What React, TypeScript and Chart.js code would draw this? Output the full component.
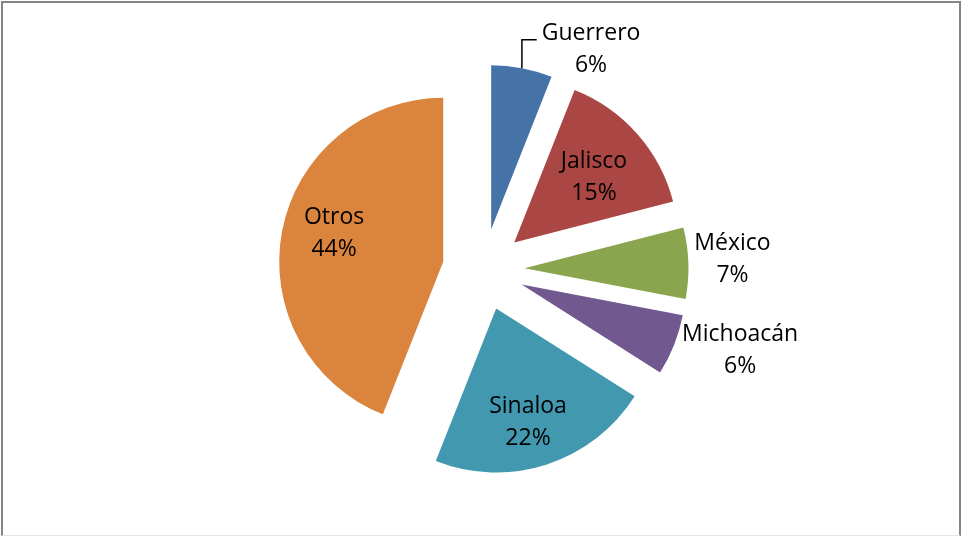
import React, { useEffect, useRef } from "react";
import { Chart, registerables } from "chart.js";

Chart.register(...registerables);

// ---- data ----
const categories = ["Guerrero", "Jalisco", "México", "Michoacán", "Sinaloa", "Otros"];
const shares = [6, 15, 7, 6, 22, 44];

// ---- styles / layout ----
const sliceColors = ["#4572A7", "#AA4643", "#89A54E", "#71588F", "#4198AF", "#DB843D"];
// label placement: distance (in radii) and angle (deg, clockwise from top) from each exploded slice centre
const labelRadius = [1.264, 0.633, 1.27, 1.388, 0.713, 0.69];
const labelAngle = [28.8, 50.2, 87.2, 106.3, 164.2, 285.3];
const leaderLine = [true, false, false, false, false, false];

const EXPLODE = 41;
const RADIUS = 164;
const FONT_SIZE = 23;
const FONT = `${FONT_SIZE}px "Open Sans"`;
const CAP = FONT_SIZE * 0.714;
const LINE_GAP = 32;

const explodePlugin = {
  id: "explodeSlices",
  afterDatasetsUpdate(chart: any) {
    const meta = chart.getDatasetMeta(0);
    const ca = chart.chartArea;
    const cx = (ca.left + ca.right) / 2;
    const cy = (ca.top + ca.bottom) / 2;
    meta.data.forEach((arc: any) => {
      const mid = (arc.startAngle + arc.endAngle) / 2;
      arc.x = cx + Math.cos(mid) * EXPLODE;
      arc.y = cy + Math.sin(mid) * EXPLODE;
    });
  },
};

const labelPlugin = {
  id: "sliceLabels",
  afterDatasetsDraw(chart: any) {
    const ctx = chart.ctx as CanvasRenderingContext2D;
    const meta = chart.getDatasetMeta(0);
    const total = shares.reduce((a, b) => a + b, 0);
    ctx.save();
    ctx.font = FONT;
    ctx.fillStyle = "#000";
    ctx.textAlign = "center";
    ctx.textBaseline = "alphabetic";
    meta.data.forEach((arc: any, i: number) => {
      const R = arc.outerRadius;
      const a = ((labelAngle[i] - 90) * Math.PI) / 180;
      const lx = arc.x + Math.cos(a) * labelRadius[i] * R;
      const ly = arc.y + Math.sin(a) * labelRadius[i] * R;
      const pct = Math.round((shares[i] / total) * 100) + "%";
      const b1 = ly - LINE_GAP / 2 + CAP / 2;
      const b2 = ly + LINE_GAP / 2 + CAP / 2;
      ctx.fillText(categories[i], lx, b1);
      ctx.fillText(pct, lx, b2);
      if (leaderLine[i]) {
        const mid = (arc.startAngle + arc.endAngle) / 2;
        const sx = arc.x + Math.cos(mid) * R;
        const sy = arc.y + Math.sin(mid) * R;
        const w = ctx.measureText(categories[i]).width;
        const ex = lx - w / 2 - 5;
        ctx.beginPath();
        ctx.strokeStyle = "#000";
        ctx.lineWidth = 1.5;
        ctx.moveTo(sx, sy);
        ctx.lineTo(sx, b1);
        ctx.lineTo(ex, b1);
        ctx.stroke();
      }
    });
    ctx.restore();
  },
};

export default function App() {
  const ref = useRef<HTMLCanvasElement>(null);
  useEffect(() => {
    document.body.style.margin = "0";
    const chart = new Chart(ref.current as HTMLCanvasElement, {
      type: "pie",
      data: {
        labels: categories,
        datasets: [
          {
            data: shares,
            backgroundColor: sliceColors,
            borderWidth: 0,
            radius: RADIUS,
          } as any,
        ],
      },
      options: {
        responsive: false,
        animation: false,
        events: [],
        layout: { padding: { left: 4, top: 2, right: 0, bottom: 0 } },
        plugins: { legend: { display: false }, tooltip: { enabled: false } },
      } as any,
      plugins: [explodePlugin, labelPlugin],
    });
    return () => chart.destroy();
  }, []);
  return (
    <div style={{ position: "fixed", left: 0, top: 0, width: 963, height: 537, background: "#fff" }}>
      <div
        style={{
          position: "absolute",
          left: 1,
          top: 1,
          width: 960,
          height: 535,
          boxSizing: "border-box",
          borderLeft: "2px solid #858585",
          borderTop: "2px solid #858585",
          borderRight: "2px solid #858585",
          borderBottom: "1px solid #e4e4e4",
        }}
      />
      <canvas
        ref={ref}
        width={963}
        height={537}
        style={{ position: "absolute", left: 0, top: 0, display: "block" }}
      />
    </div>
  );
}
